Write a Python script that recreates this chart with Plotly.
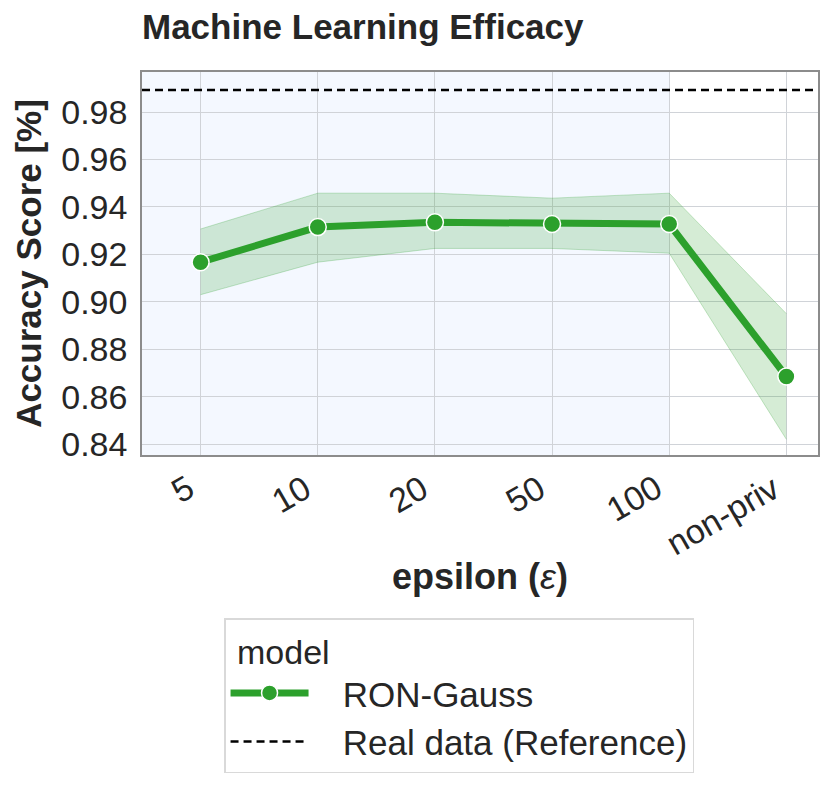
import plotly.graph_objects as go

epsilons = ["5", "10", "20", "50", "100", "non-priv"]
ron_gauss = [0.9167, 0.9315, 0.9335, 0.9328, 0.9328, 0.8685]
ron_upper = [0.9307, 0.9458, 0.9458, 0.9437, 0.9458, 0.8950]
ron_lower = [0.9030, 0.9167, 0.9225, 0.9225, 0.9205, 0.8420]
real_data = 0.9893

green = "#2ca02c"
font = "Liberation Sans, Arial, sans-serif"
xs = list(range(len(epsilons)))
pad = "\u00a0\u00a0\u00a0"

fig = go.Figure()

# light blue area over the private epsilons
fig.add_shape(type="rect", xref="x", yref="paper", x0=-0.5, x1=4, y0=0, y1=1,
              fillcolor="#f4f8ff", line_width=0, layer="below")

fig.add_trace(go.Scatter(x=xs, y=ron_upper, mode="lines",
                         line=dict(color="rgba(44,160,44,0.25)", width=1),
                         showlegend=False, hoverinfo="skip"))
fig.add_trace(go.Scatter(x=xs, y=ron_lower, mode="lines", fill="tonexty",
                         fillcolor="rgba(44,160,44,0.2)",
                         line=dict(color="rgba(44,160,44,0.25)", width=1),
                         showlegend=False, hoverinfo="skip"))
fig.add_trace(go.Scatter(x=xs, y=ron_gauss, mode="lines+markers", name=pad + "RON-Gauss",
                         legendgroup="a",
                         line=dict(color=green, width=7),
                         marker=dict(size=17, color=green, line=dict(color="white", width=1.5))))
fig.add_trace(go.Scatter(x=[-0.5, 5.3], y=[real_data, real_data], mode="lines",
                         name=pad + "Real data (Reference)", legendgroup="b",
                         line=dict(color="black", width=2.5, dash="8px,5px")))

# rotated tick labels, right/top aligned to the tick like matplotlib
for x, lab in zip(xs, epsilons):
    fig.add_annotation(x=x, y=0, xref="x", yref="paper", text=lab, showarrow=False,
                       textangle=-30, xanchor="right", yanchor="top",
                       xshift=2, yshift=-10, font=dict(size=34, color="#262626"))

# page body has an 8px margin, so the figure is drawn 8px smaller
fig.update_layout(
    width=823, height=782,
    paper_bgcolor="white", plot_bgcolor="white",
    font=dict(family=font, size=34, color="#262626"),
    margin=dict(l=134, r=13, t=64, b=335),
    title=dict(text="<b>Machine Learning Efficacy</b>", x=134 / 823, xanchor="left",
               y=1 - 19 / 782, yanchor="middle", font=dict(size=35, color="#262626")),
    legend=dict(title=dict(text="\u00a0model", font=dict(size=34)), font=dict(size=35),
                x=0.469, xanchor="center", y=-0.4256, yanchor="top",
                traceorder="normal", tracegroupgap=6,
                bordercolor="#d9d9d9", borderwidth=1.5, bgcolor="white",
                itemwidth=78),
)
fig.update_xaxes(
    tickmode="array", tickvals=xs, showticklabels=False,
    range=[-0.5, 5.27], showgrid=True, gridcolor="#d0d3d8", gridwidth=1.2,
    zeroline=False, showline=True, linecolor="#8c8c8c", mirror=True, linewidth=1.5,
    title=dict(text="<b>epsilon (</b><i>ε</i><b>)</b>", font=dict(size=36), standoff=108),
)
fig.update_yaxes(
    range=[0.8354, 0.9969], tickvals=[0.84, 0.86, 0.88, 0.90, 0.92, 0.94, 0.96, 0.98],
    tickformat=".2f", showgrid=True, gridcolor="#d0d3d8", gridwidth=1.2,
    zeroline=False, showline=True, linecolor="#8c8c8c", mirror=True, linewidth=1.5,
    tickfont=dict(size=34), ticks="", ticklabelstandoff=6,
    title=dict(text="<b>Accuracy Score [%]</b>", font=dict(size=35), standoff=9),
)

fig.write_html("out.html")
